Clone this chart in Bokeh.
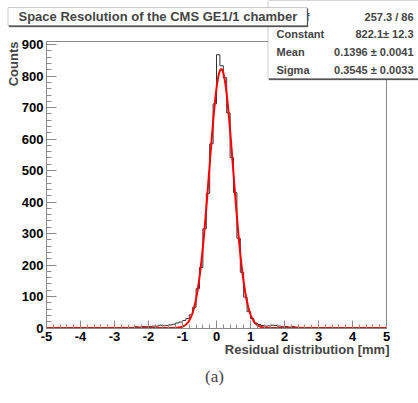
import numpy as np
from bokeh.plotting import figure
from bokeh.models import (Label, BoxAnnotation, Range1d, SingleIntervalTicker,
                          FixedTicker, LinearAxis)
from bokeh.embed import file_html
from bokeh.resources import INLINE

# ---- data -------------------------------------------------------------
x_min, x_max, n_bins = -5.0, 5.0, 100
y_max = 910
counts = [
    1, 0, 1, 2, 0, 1, 1, 0, 2, 1,      # -5.0 .. -4.0
    1, 0, 1, 1, 2, 0, 1, 1, 0, 2,      # -4.0 .. -3.0
    1, 1, 2, 1, 2, 2, 4, 3, 5, 4,      # -3.0 .. -2.0
    5, 6, 6, 9, 7, 8, 10, 12, 16, 19,  # -2.0 .. -1.0
    24, 30, 42, 66, 125, 192, 315, 428, 585, 712,   # -1.0 .. 0.0
    868, 833, 795, 683, 541, 430, 285, 177, 98, 52,  # 0.0 .. 1.0
    30, 16, 11, 8, 6, 7, 9, 8, 6, 4,   # 1.0 .. 2.0
    5, 3, 5, 3, 2, 2, 1, 2, 1, 0,      # 2.0 .. 3.0
    1, 1, 0, 2, 1, 0, 1, 1, 0, 1,      # 3.0 .. 4.0
    1, 0, 1, 2, 1, 0, 1, 1, 0, 1,      # 4.0 .. 5.0
]
fit_constant = 822.1
fit_mean = 0.1396
fit_sigma = 0.3545

x_ticks = [-5, -4, -3, -2, -1, 0, 1, 2, 3, 4, 5]
x_tick_labels = ["-5", "-4", "-3", "-2", "-1", "0", "1", "2", "3", "4", "5"]

title_text = "Space Resolution of the CMS GE1/1 chamber"
stat_labels = ["\u03c7\u00b2 / ndf", "Constant", "Mean", "Sigma"]
stat_values = ["257.3 / 86", "822.1\u00b1 12.3", "0.1396 \u00b1 0.0041", "0.3545 \u00b1 0.0033"]
x_title = "Residual distribution [mm]"
y_title = "Counts"
caption = "(a)"

# ---- layout (pixels on the canvas) ------------------------------------
W, H = 418, 403
FL, FR, FT, FB = 46.0, 386.0, 41.0, 327.5      # plot-frame edges on canvas
sx_per = (FR - FL) / (x_max - x_min)
sy_per = (FB - FT) / y_max
xr = Range1d(x_min - FL / sx_per, x_max + (W - FR) / sx_per)
yr = Range1d(0 - (H - FB) / sy_per, y_max + FT / sy_per)

AX = "#8a8a8a"
FONT = "Liberation Sans"

p = figure(width=W, height=H, output_backend="svg", toolbar_location=None,
           x_range=xr, y_range=yr, x_axis_location=None, y_axis_location=None,
           min_border=0, min_border_left=0, min_border_right=0,
           min_border_top=0, min_border_bottom=0)
p.grid.visible = False
p.outline_line_color = None
p.background_fill_color = "white"
p.border_fill_color = "white"


def style_axis(ax):
    ax.axis_line_color = AX
    ax.major_tick_line_color = AX
    ax.minor_tick_line_color = AX
    ax.major_tick_out = 0
    ax.minor_tick_out = 0
    ax.major_label_text_font = FONT
    ax.major_label_text_font_style = "bold"
    ax.major_label_text_font_size = "13px"
    ax.major_label_text_color = "black"


xaxis = LinearAxis(fixed_location=0, bounds=(x_min, x_max),
                   ticker=SingleIntervalTicker(interval=1, num_minor_ticks=5))
style_axis(xaxis)
xaxis.major_label_overrides = {t: s for t, s in zip(x_ticks, x_tick_labels)}
xaxis.major_tick_in = 8
xaxis.minor_tick_in = 4
xaxis.major_label_standoff = 4
p.add_layout(xaxis, "below")

yaxis = LinearAxis(fixed_location=x_min, bounds=(0, y_max),
                   ticker=SingleIntervalTicker(interval=100, num_minor_ticks=5))
style_axis(yaxis)
yaxis.major_tick_in = 10
yaxis.minor_tick_in = 5
yaxis.major_label_standoff = 3
p.add_layout(yaxis, "left")

# frame top / right edges (tick-less axes)
topaxis = LinearAxis(fixed_location=y_max, bounds=(x_min, x_max), ticker=FixedTicker(ticks=[]))
style_axis(topaxis)
p.add_layout(topaxis, "above")
rightaxis = LinearAxis(fixed_location=x_max, bounds=(0, y_max), ticker=FixedTicker(ticks=[]))
style_axis(rightaxis)
p.add_layout(rightaxis, "right")

# histogram outline
edges = np.linspace(x_min, x_max, n_bins + 1)
ys = list(counts) + [counts[-1]]
p.step(edges, ys, mode="after", line_color="#333333", line_width=1)

# gaussian fit
xf = np.linspace(x_min, x_max, 1001)
yf = fit_constant * np.exp(-0.5 * ((xf - fit_mean) / fit_sigma) ** 2)
p.line(xf, yf, line_color="#ff0000", line_width=2)


def box(l, r, b, t, fill="white", line="#555555"):
    p.add_layout(BoxAnnotation(left=l, right=r, bottom=b, top=t,
                               left_units="screen", right_units="screen",
                               bottom_units="screen", top_units="screen",
                               fill_color=fill, fill_alpha=1.0,
                               line_color=line, line_width=1))


def label(x, y, text, align="left", size="11px", **kw):
    kw.setdefault("text_font", FONT)
    kw.setdefault("text_font_style", "bold")
    p.add_layout(Label(x=x, y=y, x_units="screen", y_units="screen",
                       text=text, text_align=align, text_baseline="middle",
                       text_font_size=size, **kw))


# ---- stats box --------------------------------------------------------
box(268.5, 425, 323.5, 410, fill="#555555")
box(267.5, 424, 325, 410)
row_y = [386.5, 369.5, 352, 334]
for i, (lab, val) in enumerate(zip(stat_labels, stat_values)):
    if i == 0:
        label(309, row_y[i], lab, align="right")
    else:
        label(276, row_y[i], lab, align="left")
    label(413, row_y[i], val, align="right")

# ---- title box --------------------------------------------------------
box(8.5, 307.5, 376.5, 395, fill="#555555")
box(7.5, 306.5, 378, 396)
label(18, 387, title_text, size="13px")

# ---- axis titles and caption -----------------------------------------
label(12.5, 362, y_title, align="right", size="13px", angle=np.pi / 2)
label(389, 54, x_title, align="right", size="13px")
label(214, 27, caption, align="center", size="17px",
      text_font="Liberation Serif", text_font_style="normal")

open("out.html", "w").write(file_html(p, INLINE))
